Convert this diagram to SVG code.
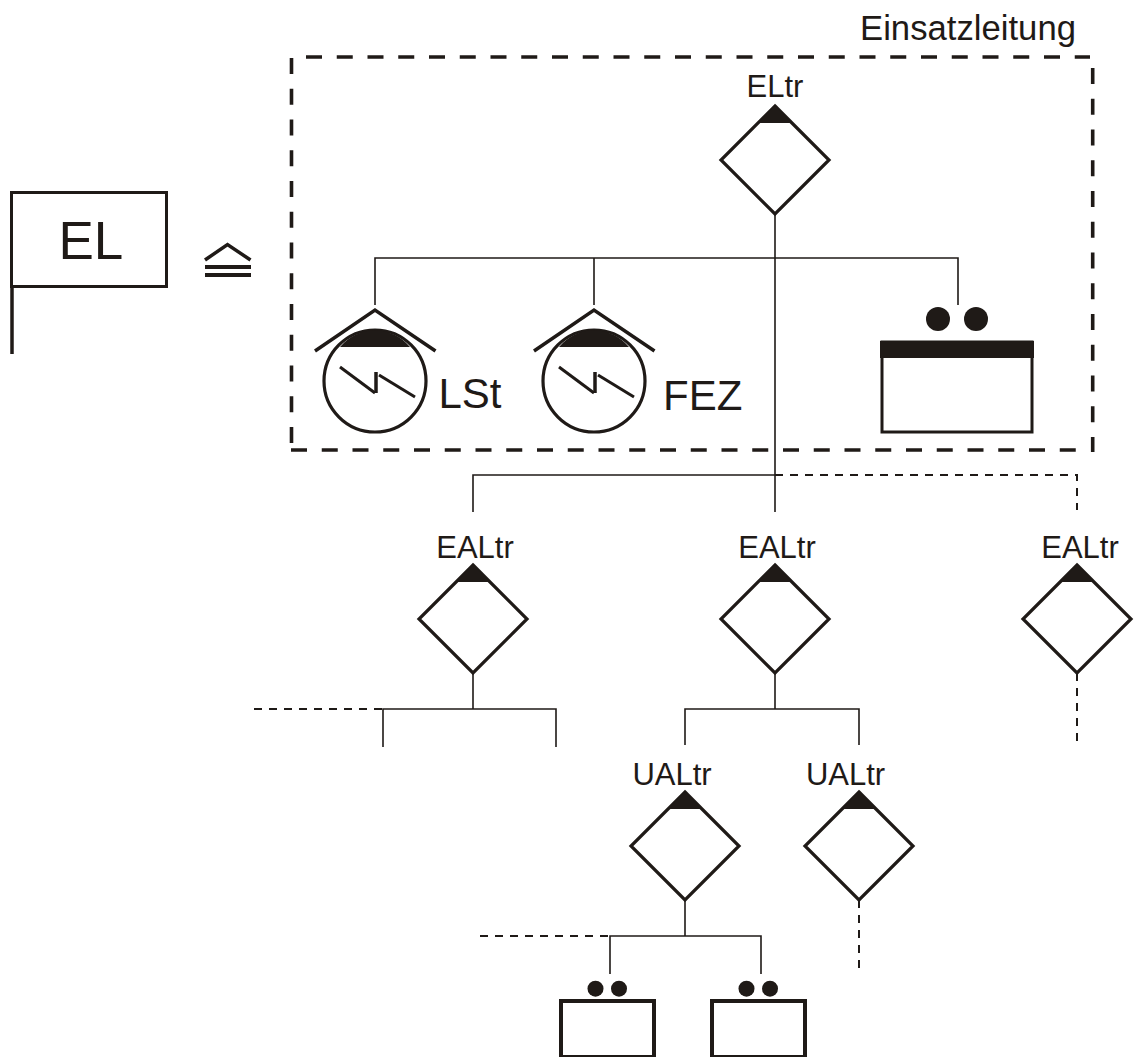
<svg xmlns="http://www.w3.org/2000/svg" xmlns:xlink="http://www.w3.org/1999/xlink" width="1134" height="1057" viewBox="0 0 1134 1057">
<style>
text{font-family:"Liberation Sans",Arial,sans-serif;fill:#1f1a17}
.lbl{font-size:31px;text-anchor:middle}
.big{font-size:42px}
.line{fill:none;stroke:#1f1a17;stroke-width:1.6}
.dash{fill:none;stroke:#1f1a17;stroke-width:2;stroke-dasharray:8 7}
.thick{fill:none;stroke:#1f1a17;stroke-width:3.5}
.frame{fill:none;stroke:#1f1a17;stroke-width:3.6;stroke-dasharray:16 14.75}
.solid{fill:#1f1a17;stroke:none}
</style>
<defs>
<g id="diamond"><path d="M0,-54L54,0L0,54L-54,0Z" fill="#fff" stroke="#1f1a17" stroke-width="3.2"/><path d="M0,-55L16,-37H-16Z" class="solid"/></g>
<g id="station"><path d="M-60,-30L0,-71L60.500,-30" class="thick"/><circle r="51" fill="#fff" stroke="#1f1a17" stroke-width="3.200"/><path d="M-35,-34A45,45 0 0 1 35,-34Z" class="solid"/><path d="M-35,-14L0,12" fill="none" stroke="#1f1a17" stroke-width="3"/><path d="M1,12V-9" fill="none" stroke="#1f1a17" stroke-width="3.500"/><path d="M4,-6L40,16" fill="none" stroke="#1f1a17" stroke-width="3"/></g>
<g id="small"><circle cx="36.500" cy="-12.300" r="8" class="solid"/><circle cx="60" cy="-12.300" r="8" class="solid"/><rect x="2" y="0" width="93" height="56" fill="#fff" stroke="#1f1a17" stroke-width="4"/></g>
</defs>
<g id="connectors">
<path class="line" d="M775,214V512M375,305V258H958V305M594,258V305M473,512V475H775"/>
<path class="dash" d="M775,475H1077V510"/>
<path class="line" d="M473,673V709M383,747V709H556V747M775,673V709M685,745V709H859V745"/>
<path class="dash" d="M254,709H383M1077,673V742M859,900V968M480,936H610"/>
<path class="line" d="M685,900V936M610,974V936H761V974"/>
</g>
<g id="frame">
<path class="frame" d="M306,57H1090M291.500,58V443M291,450H1076M1092.700,68V452"/>
<text x="860" y="39.500" font-size="34.700">Einsatzleitung</text></g>
<g id="flag"><rect x="11.500" y="192.500" width="155" height="94" fill="#fff" stroke="#1f1a17" stroke-width="3"/><path d="M12,287V354" fill="none" stroke="#1f1a17" stroke-width="3.500"/><text x="58.500" y="259.300" font-size="53">EL</text></g>
<g id="equiv"><path d="M205,260L227.500,244.500L250.500,260" class="thick"/><path d="M205,267H251M205,275H251" fill="none" stroke="#1f1a17" stroke-width="4"/></g>
<g id="eltr"><use xlink:href="#diamond" href="#diamond" x="775" y="160"/><text class="lbl" x="775" y="97">ELtr</text></g>
<g id="lst"><use xlink:href="#station" href="#station" x="375" y="381"/><text class="big" x="438.500" y="408">LSt</text></g>
<g id="fez"><use xlink:href="#station" href="#station" x="594" y="381"/><text class="big" x="663" y="410">FEZ</text></g>
<g id="unit"><circle cx="938" cy="319" r="12" class="solid"/><circle cx="976" cy="319" r="12" class="solid"/><rect x="882" y="342" width="150" height="90" fill="#fff" stroke="#1f1a17" stroke-width="3"/><rect x="880" y="341" width="154" height="17" class="solid"/></g>
<g id="ealtr1"><use xlink:href="#diamond" href="#diamond" x="473" y="619"/><text class="lbl" x="475" y="558">EALtr</text></g>
<g id="ealtr2"><use xlink:href="#diamond" href="#diamond" x="775" y="619"/><text class="lbl" x="777" y="558">EALtr</text></g>
<g id="ealtr3"><use xlink:href="#diamond" href="#diamond" x="1077" y="619"/><text class="lbl" x="1080" y="558">EALtr</text></g>
<g id="ualtr1"><use xlink:href="#diamond" href="#diamond" x="685" y="846"/><text class="lbl" x="672" y="785">UALtr</text></g>
<g id="ualtr2"><use xlink:href="#diamond" href="#diamond" x="859" y="846"/><text class="lbl" x="845.500" y="785">UALtr</text></g>
<g id="small1"><use xlink:href="#small" href="#small" x="559" y="1001"/></g>
<g id="small2"><use xlink:href="#small" href="#small" x="710" y="1001"/></g>
</svg>
